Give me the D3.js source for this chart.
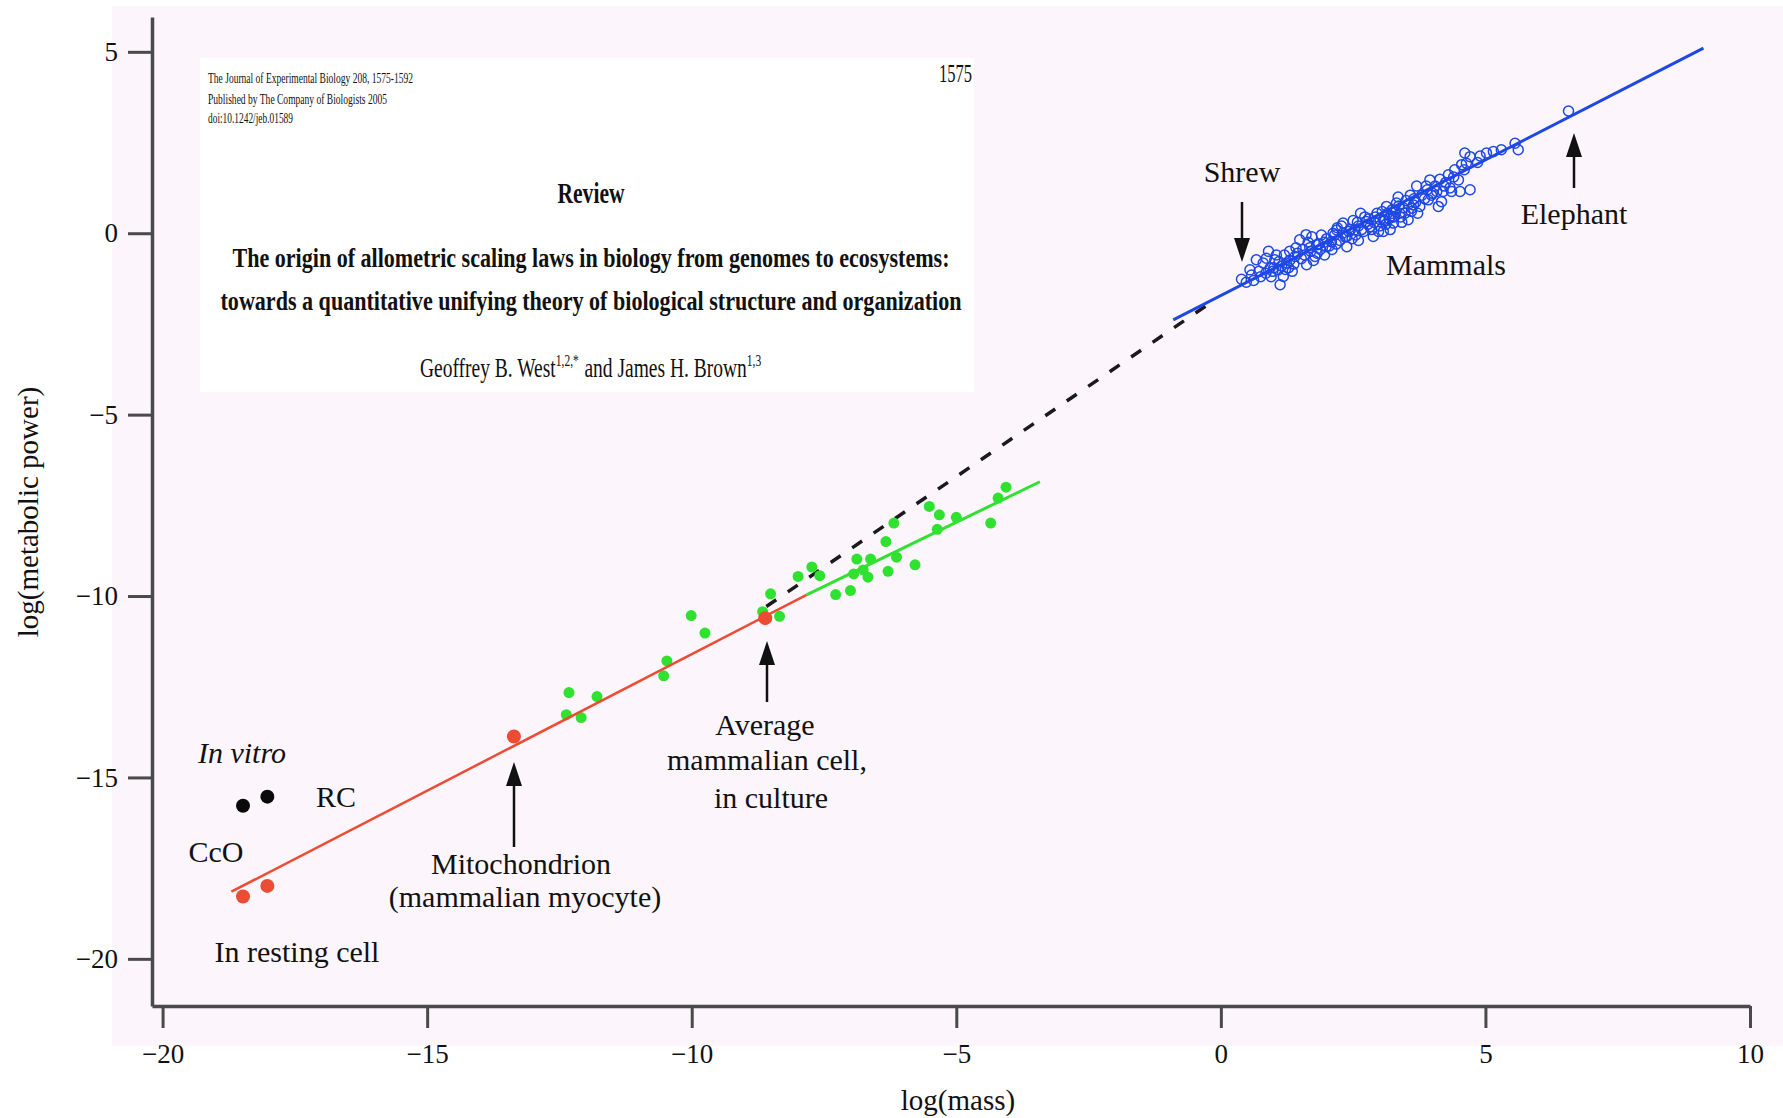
<!DOCTYPE html>
<html>
<head>
<meta charset="utf-8">
<script src="https://cdn.jsdelivr.net/npm/d3@7"></script>
<style>
  body { margin: 0; background: #fff; }
  text { font-family: "Liberation Serif", "Times New Roman", serif; fill: #111; }
</style>
</head>
<body>
<script>

// DATA

var xTicks = [-20, -15, -10, -5, 0, 5, 10];
var yTicks = [5, 0, -5, -10, -15, -20];

// log(mass), log(metabolic power)
var restingPoints = [[-18.48, -18.28], [-18.02, -17.99], [-13.36, -13.87], [-8.61, -10.61]];
var inVitroPoints = [[-18.48, -15.78], [-18.02, -15.53]];

var culturePoints = [
  [-12.37, -13.27], [-12.09, -13.35], [-12.32, -12.66], [-11.79, -12.77],
  [-10.53, -12.20], [-10.47, -11.79], [-10.01, -10.54], [-9.75, -11.02],
  [-8.66, -10.43], [-8.34, -10.56], [-8.51, -9.94], [-7.99, -9.46],
  [-7.73, -9.20], [-7.58, -9.44], [-7.28, -9.96], [-7.00, -9.85],
  [-6.88, -8.98], [-6.62, -8.98], [-6.94, -9.39], [-6.76, -9.28],
  [-6.67, -9.48], [-6.29, -9.32], [-6.33, -8.50], [-6.18, -7.99],
  [-6.13, -8.93], [-5.78, -9.14], [-5.51, -7.53], [-5.32, -7.76],
  [-5.00, -7.83], [-5.36, -8.16], [-4.35, -7.99], [-4.21, -7.30],
  [-4.06, -7.00]
];

var mammalPoints = [
  [0.39, -1.27], [0.58, -1.15], [0.67, -0.73], [0.90, -0.50], [0.80, -0.82],
  [1.08, -1.01], [1.12, -1.42], [1.18, -1.19], [1.02, -0.73], [1.30, -0.50],
  [1.62, -0.87], [1.61, -0.04], [1.49, -0.18], [1.96, -0.60], [1.81, -0.32],
  [2.09, -0.23], [2.31, 0.28], [2.38, -0.09], [2.53, 0.09], [2.75, 0.32],
  [2.88, -0.09], [3.07, 0.05], [3.26, 0.46], [3.13, 0.74], [3.32, 0.83],
  [2.64, 0.55], [2.19, 0.09], [1.40, -0.64], [1.78, -0.64], [1.24, -0.82],
  [0.93, -0.96], [0.86, -0.69], [0.55, -1.01], [1.99, -0.37], [2.38, -0.37],
  [2.82, 0.18], [3.01, 0.37],
  [3.38, 0.55], [3.20, 0.46], [3.07, 0.37], [3.26, 0.28], [3.64, 0.78],
  [3.54, 0.37], [3.61, 0.69], [3.76, 0.74], [3.92, 0.92], [4.11, 0.74],
  [4.17, 0.87], [4.20, 1.15], [4.36, 1.15], [4.71, 1.20], [4.52, 1.15],
  [4.14, 1.49], [3.95, 1.47], [4.49, 1.47], [4.30, 1.61], [4.42, 1.75],
  [4.64, 1.93], [4.55, 1.89], [4.61, 2.21], [4.71, 2.11], [4.90, 2.13],
  [5.02, 2.21], [5.15, 2.25], [5.62, 2.30], [5.56, 2.48], [6.57, 3.37],
  [1.00, -0.95], [1.15, -0.90], [0.72, -1.05], [1.30, -0.75], [1.45, -0.55],
  [1.55, -0.45], [1.70, -0.50], [1.85, -0.30], [2.00, -0.15], [2.15, -0.05],
  [2.25, -0.20], [2.45, 0.10], [2.60, 0.20], [2.70, 0.05], [2.90, 0.30],
  [3.00, 0.20], [3.15, 0.55], [3.30, 0.60], [3.45, 0.70], [3.50, 0.90],
  [3.65, 0.95], [3.80, 1.05], [3.90, 1.20], [4.05, 1.30], [2.30, 0.00],
  [2.55, -0.05], [2.80, 0.40], [3.10, 0.35], [3.40, 0.45], [3.60, 0.60],
  [4.25, 1.40], [4.40, 1.55], [4.60, 1.75], [4.85, 1.95], [5.30, 2.30],
  [1.20, -0.60], [1.65, -0.25], [1.90, -0.05], [2.20, 0.15], [2.50, 0.35],
  [2.95, 0.55], [3.35, 1.00], [3.70, 1.30], [4.00, 1.10], [0.95, -1.20],
  [1.35, -1.05], [1.75, -0.75], [2.10, -0.45], [2.60, -0.20], [3.20, 0.10],
  [0.48, -1.35], [0.62, -1.30], [0.75, -1.20], [0.85, -1.10], [0.98, -1.05],
  [1.05, -0.60], [1.10, -0.78], [1.22, -1.00], [1.28, -0.95], [1.38, -0.85],
  [1.42, -0.40], [1.52, -0.70], [1.58, -0.60], [1.68, -0.40], [1.72, -0.10],
  [1.82, -0.55], [1.88, -0.45], [1.95, -0.25], [2.05, -0.35], [2.12, 0.00],
  [2.18, -0.30], [2.28, 0.20], [2.35, -0.10], [2.42, 0.05], [2.48, -0.15],
  [2.58, 0.30], [2.66, 0.10], [2.72, 0.45], [2.78, 0.25], [2.85, 0.10],
  [2.92, 0.45], [2.98, 0.05], [3.05, 0.60], [3.12, 0.25], [3.18, 0.40],
  [3.24, 0.65], [3.28, 0.45], [3.36, 0.75], [3.42, 0.30], [3.48, 0.55],
  [3.55, 0.80], [3.58, 1.05], [3.68, 0.85], [3.72, 0.55], [3.85, 0.95],
  [3.88, 1.30], [3.98, 1.05], [4.08, 1.15], [4.22, 1.30], [4.33, 1.25]
];

var restingFit = [[-18.7, -18.15], [-7.83, -9.97]];
var cultureFit = [[-7.83, -9.97], [-3.42, -6.85]];
var mammalFit = [[-0.9, -2.39], [9.12, 5.1]];
var linearFit = [[-8.59, -10.29], [-0.1, -1.82]];

// COLOURS

var red = "#ec4c33";
var green = "#2fe22f";
var blue = "#1d48e4";
var axisGrey = "#4a4a4a";

var svg = d3.select("body").append("svg")
    .attr("width", 1783)
    .attr("height", 1118);

// BACKGROUND

svg.append("rect")
    .attr("x", 112).attr("y", 6)
    .attr("width", 1671).attr("height", 1040)
    .attr("fill", "#fdf5fc");

// SCALES + AXES

var x = d3.scaleLinear().domain([-20.2, 10]).range([152, 1750]);
var y = d3.scaleLinear().domain([-21.3, 5.96]).range([1006, 17]);

function fmt(d) { return d < 0 ? "\u2212" + Math.abs(d) : d; }

var xAxis = svg.append("g")
    .attr("transform", "translate(0,1006)")
    .call(d3.axisBottom(x).tickValues(xTicks).tickFormat(fmt)
      .tickSize(22).tickSizeOuter(0).tickPadding(16));

var yAxis = svg.append("g")
    .attr("transform", "translate(152,0)")
    .call(d3.axisLeft(y).tickValues(yTicks).tickFormat(fmt)
      .tickSize(24).tickSizeOuter(0).tickPadding(10));

[xAxis, yAxis].forEach(function(ax) {
  ax.select(".domain").attr("stroke", axisGrey).attr("stroke-width", 3.5);
  ax.selectAll(".tick line").attr("stroke", axisGrey).attr("stroke-width", 3);
  ax.selectAll(".tick text")
      .attr("fill", "#222")
      .style("font-family", "'Liberation Serif', serif")
      .style("font-size", "27px");
});

svg.append("text")
    .attr("x", 958).attr("y", 1110)
    .attr("text-anchor", "middle")
    .style("font-size", "29px")
    .text("log(mass)");

svg.append("text")
    .attr("transform", "translate(38,512) rotate(-90)")
    .attr("text-anchor", "middle")
    .style("font-size", "29px")
    .text("log(metabolic power)");

// PAPER HEADER (inset)

var paper = svg.append("g").attr("class", "paper");

paper.append("rect")
    .attr("x", 200).attr("y", 58)
    .attr("width", 774).attr("height", 334)
    .attr("fill", "#ffffff");

function condensed(txt, px, py, size, len, anchor, bold) {
  return paper.append("text")
      .attr("x", px).attr("y", py)
      .attr("text-anchor", anchor || "start")
      .attr("textLength", len)
      .attr("lengthAdjust", "spacingAndGlyphs")
      .style("font-size", size + "px")
      .style("font-weight", bold ? "bold" : "normal")
      .text(txt);
}

condensed("The Journal of Experimental Biology 208, 1575-1592", 208, 83, 14, 205);
condensed("Published by The Company of Biologists 2005", 208, 104, 14, 179);
condensed("doi:10.1242/jeb.01589", 208, 123, 14, 85);
condensed("1575", 972, 82, 25, 33, "end");
condensed("Review", 591, 203, 30, 67, "middle", true);
condensed("The origin of allometric scaling laws in biology from genomes to ecosystems:", 591, 267, 28, 717, "middle", true);
condensed("towards a quantitative unifying theory of biological structure and organization", 591, 310, 28, 741, "middle", true);

// authors line: pieces laid out in a row, then squeezed to the printed width
var authorPieces = [
  { t: "Geoffrey B. West", sup: false },
  { t: "1,2,*", sup: true },
  { t: " and James H. Brown", sup: false },
  { t: "1,3", sup: true }
];
var authors = paper.append("g");
var cursor = 0;
authorPieces.forEach(function(p) {
  var t = authors.append("text")
      .attr("x", cursor)
      .attr("y", p.sup ? -11 : 0)
      .style("font-size", p.sup ? "16px" : "27px")
      .style("white-space", "pre")
      .attr("xml:space", "preserve")
      .text(p.t);
  cursor += t.node().getComputedTextLength() + (p.sup ? 1 : 0);
});
var squeeze = 342 / cursor;
authors.attr("transform", "translate(" + (591 - 171) + ",377) scale(" + squeeze + ",1)");

// FITTED LINES

var line = d3.line()
    .x(function(d) { return x(d[0]); })
    .y(function(d) { return y(d[1]); });

svg.append("path").datum(linearFit)
    .attr("d", line)
    .attr("fill", "none")
    .attr("stroke", "#1a1a1a")
    .attr("stroke-width", 3.5)
    .attr("stroke-dasharray", "12 14");

svg.append("g").attr("class", "culture")
  .selectAll("circle")
  .data(culturePoints)
  .enter().append("circle")
    .attr("cx", function(d) { return x(d[0]); })
    .attr("cy", function(d) { return y(d[1]); })
    .attr("r", 5.5)
    .attr("fill", green);

svg.append("path").datum(restingFit)
    .attr("d", line).attr("fill", "none")
    .attr("stroke", red).attr("stroke-width", 2.5);

svg.append("path").datum(cultureFit)
    .attr("d", line).attr("fill", "none")
    .attr("stroke", green).attr("stroke-width", 3);

svg.append("path").datum(mammalFit)
    .attr("d", line).attr("fill", "none")
    .attr("stroke", blue).attr("stroke-width", 3);

// POINTS

svg.append("g").attr("class", "resting")
  .selectAll("circle")
  .data(restingPoints)
  .enter().append("circle")
    .attr("cx", function(d) { return x(d[0]); })
    .attr("cy", function(d) { return y(d[1]); })
    .attr("r", 7)
    .attr("fill", red);

svg.append("g").attr("class", "invitro")
  .selectAll("circle")
  .data(inVitroPoints)
  .enter().append("circle")
    .attr("cx", function(d) { return x(d[0]); })
    .attr("cy", function(d) { return y(d[1]); })
    .attr("r", 7)
    .attr("fill", "#0a0a0a");

svg.append("g").attr("class", "mammals")
  .selectAll("circle")
  .data(mammalPoints)
  .enter().append("circle")
    .attr("cx", function(d) { return x(d[0]); })
    .attr("cy", function(d) { return y(d[1]); })
    .attr("r", 5)
    .attr("fill", "none")
    .attr("stroke", blue)
    .attr("stroke-width", 1.5);

// ANNOTATIONS

var notes = svg.append("g").attr("class", "notes").style("font-size", "30px");

function note(txt, px, py, italic) {
  notes.append("text")
      .attr("x", px).attr("y", py)
      .attr("text-anchor", "middle")
      .style("font-style", italic ? "italic" : "normal")
      .text(txt);
}

note("In vitro", 242, 763, true);
note("RC", 336, 807);
note("CcO", 216, 862);
note("In resting cell", 297, 962);
note("Mitochondrion", 521, 874);
note("(mammalian myocyte)", 525, 907);
note("Average", 765, 735);
note("mammalian cell,", 767, 770);
note("in culture", 771, 808);
note("Shrew", 1242, 182);
note("Mammals", 1446, 275);
note("Elephant", 1574, 224);

function arrow(px, yFrom, yTo) {
  var dir = yTo < yFrom ? 1 : -1;   // +1 means arrow points up
  var headLen = 24, headHalf = 8;
  notes.append("line")
      .attr("x1", px).attr("y1", yFrom)
      .attr("x2", px).attr("y2", yTo + dir * headLen * 0.6)
      .attr("stroke", "#111").attr("stroke-width", 2.5);
  notes.append("path")
      .attr("d", "M" + px + "," + yTo +
                 "L" + (px - headHalf) + "," + (yTo + dir * headLen) +
                 "L" + (px + headHalf) + "," + (yTo + dir * headLen) + "Z")
      .attr("fill", "#111");
}

arrow(514, 847, 762);
arrow(767, 702, 641);
arrow(1242, 202, 262);
arrow(1574, 188, 133);

</script>
</body>
</html>
